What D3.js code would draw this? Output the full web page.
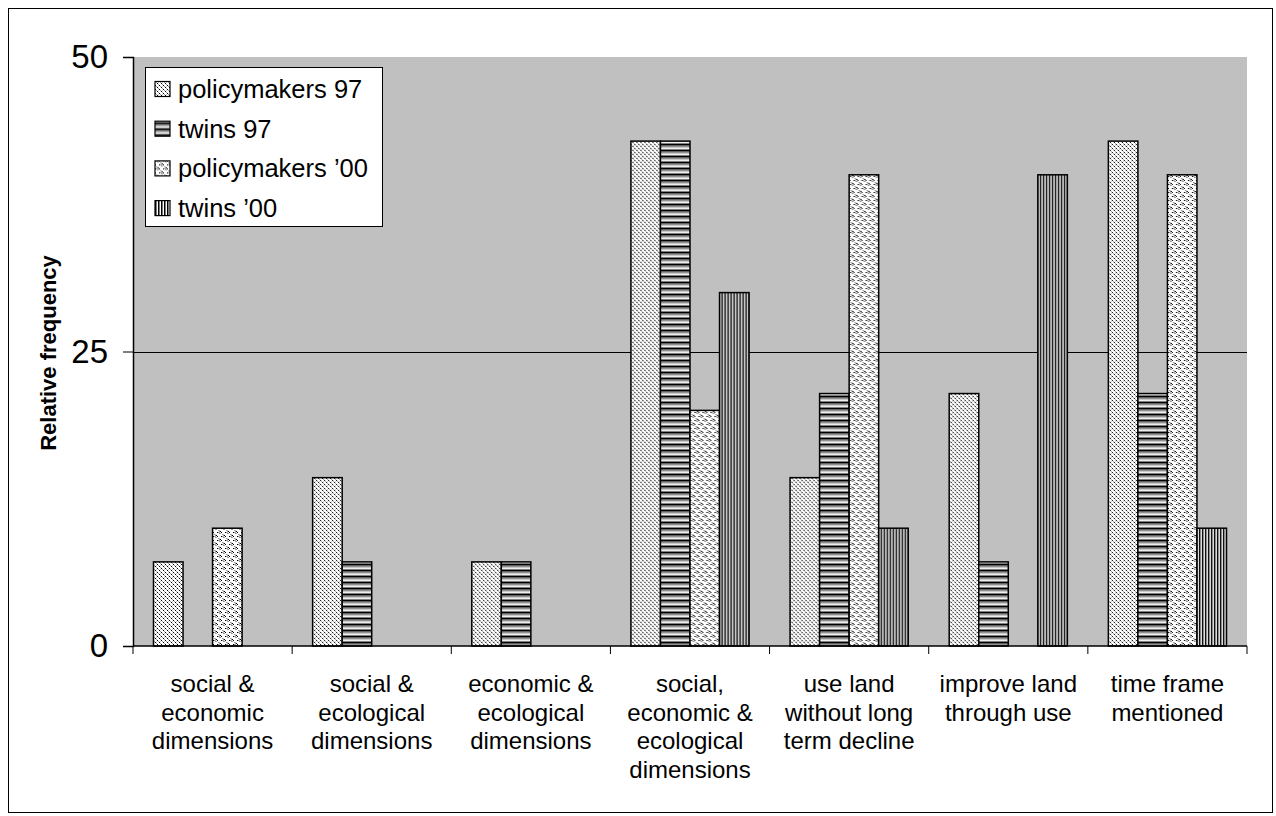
<!DOCTYPE html>
<html>
<head>
<meta charset="utf-8">
<script src="https://cdn.jsdelivr.net/npm/d3@7"></script>
<style>
  body { margin: 0; background: #fff; }
  svg { display: block; font-family: "Liberation Sans", Arial, sans-serif; }
</style>
</head>
<body>
<svg id="chart" width="1276" height="816"></svg>
<script>
// Categories (multi-line labels) and the four series, in percent
const categories = [
  ["social &", "economic", "dimensions"],
  ["social &", "ecological", "dimensions"],
  ["economic &", "ecological", "dimensions"],
  ["social,", "economic &", "ecological", "dimensions"],
  ["use land", "without long", "term decline"],
  ["improve land", "through use"],
  ["time frame", "mentioned"]
];
const seriesNames = ["policymakers 97", "twins 97", "policymakers \u201900", "twins \u201900"];
const policymakers97 = [7.14, 14.29, 7.14, 42.86, 14.29, 21.43, 42.86];
const twins97        = [0,    7.14,  7.14, 42.86, 21.43, 7.14,  21.43];
const policymakers00 = [10,   0,     0,    20,    40,    0,     40];
const twins00        = [0,    0,     0,    30,    10,    40,    10];
const yTicks = [0, 25, 50];

const series = [policymakers97, twins97, policymakers00, twins00];
const patternIds = ["pat-pm97", "pat-tw97", "pat-pm00", "pat-tw00"];

const svg = d3.select("#chart");
const defs = svg.append("defs");

// Fill patterns built from single pixels
function pixelPattern(id, w, h, bg, pixels) {
  const p = defs.append("pattern").attr("id", id)
    .attr("patternUnits", "userSpaceOnUse").attr("width", w).attr("height", h);
  p.append("rect").attr("width", w).attr("height", h).attr("fill", bg);
  pixels.forEach(([x, y, c, pw, ph]) => {
    p.append("rect").attr("x", x).attr("y", y)
      .attr("width", pw || 1).attr("height", ph || 1)
      .attr("fill", c).attr("shape-rendering", "crispEdges");
  });
}
// policymakers 97: fine diagonal dots
pixelPattern("pat-pm97", 4, 4, "#ffffff", [
  [0, 0, "#000"], [1, 1, "#a0a0a0"], [2, 2, "#000"], [3, 3, "#a0a0a0"],
  [3, 1, "#c8c8c8"]
]);
// twins 97: horizontal stripes
pixelPattern("pat-tw97", 6, 6, "#909090", [
  [0, 0, "#000", 6, 1], [0, 1, "#606060", 6, 1], [0, 3, "#c8c8c8", 6, 1],
  [0, 4, "#eeeeee", 6, 1], [0, 5, "#808080", 6, 1]
]);
// policymakers '00: wavy grey bands with dots
pixelPattern("pat-pm00", 8, 8, "#ffffff", [
  [0, 0, "#000"], [1, 0, "#999"], [2, 1, "#999"], [3, 1, "#999"], [4, 0, "#000"],
  [5, 2, "#999"], [6, 3, "#999"], [7, 3, "#000"], [2, 0, "#bbb"], [6, 2, "#bbb"],
  [4, 4, "#000"], [5, 4, "#999"], [6, 5, "#999"], [7, 5, "#999"], [0, 4, "#000"],
  [1, 6, "#999"], [2, 7, "#999"], [3, 7, "#000"], [6, 4, "#bbb"], [2, 6, "#bbb"]
]);
// twins '00: vertical black stripes
pixelPattern("pat-tw00", 3, 3, "#ffffff", [[0, 0, "#000", 1, 3], [1, 0, "#7a7a7a", 1, 3]]);

// Outer frame
svg.append("rect").attr("x", 8.5).attr("y", 8.5).attr("width", 1264).attr("height", 804)
  .attr("fill", "none").attr("stroke", "#000").attr("stroke-width", 1);

const plot = { left: 133, top: 57, right: 1247, bottom: 646 };

const x = d3.scaleBand().domain(d3.range(categories.length))
  .range([plot.left, plot.right]).padding(0);
// four adjacent bars centred within each category
const inner = d3.scaleBand().domain(d3.range(series.length))
  .range([20.5, x.bandwidth() - 20.5]).padding(0);
const y = d3.scaleLinear().domain([0, 50]).range([plot.bottom, plot.top]);

// Plot background
svg.append("rect").attr("x", plot.left).attr("y", plot.top)
  .attr("width", plot.right - plot.left).attr("height", plot.bottom - plot.top)
  .attr("fill", "#c0c0c0");

// Gridline at 25
svg.append("g").selectAll("line").data(yTicks.filter(t => t > 0 && t < 50)).join("line")
  .attr("x1", plot.left).attr("x2", plot.right)
  .attr("y1", d => Math.round(y(d)) + 0.5).attr("y2", d => Math.round(y(d)) + 0.5)
  .attr("stroke", "#000").attr("stroke-width", 1);

// Bars
const groups = svg.append("g").selectAll("g").data(categories).join("g")
  .attr("transform", (d, i) => `translate(${x(i)},0)`);
groups.each(function (d, ci) {
  const g = d3.select(this);
  series.forEach((s, si) => {
    const v = s[ci];
    if (v <= 0) return;
    g.append("rect")
      .attr("x", inner(si)).attr("y", y(v))
      .attr("width", inner.bandwidth()).attr("height", y(0) - y(v))
      .attr("fill", `url(#${patternIds[si]})`)
      .attr("stroke", "#000").attr("stroke-width", 1.5);
  });
});

// Y axis
const yAxis = d3.axisLeft(y).tickValues(yTicks).tickSize(10).tickPadding(15);
const gy = svg.append("g").attr("transform", `translate(${plot.left},0)`).call(yAxis);
gy.attr("font-size", 33).attr("font-family", "Liberation Sans, Arial, sans-serif");
gy.select(".domain").attr("stroke", "#000").attr("stroke-width", 1.5);
gy.selectAll(".tick line").attr("stroke", "#000").attr("stroke-width", 1);
gy.selectAll(".tick text").attr("fill", "#000");

// X axis: baseline with ticks at category boundaries
const gx = svg.append("g");
gx.append("line").attr("x1", plot.left).attr("x2", plot.right)
  .attr("y1", plot.bottom).attr("y2", plot.bottom)
  .attr("stroke", "#000").attr("stroke-width", 1.5);
const boundaries = d3.range(categories.length + 1).map(i => i < categories.length ? x(i) : plot.right);
gx.selectAll("line.tk").data(boundaries).join("line").attr("class", "tk")
  .attr("x1", d => d).attr("x2", d => d)
  .attr("y1", plot.bottom).attr("y2", plot.bottom + 8)
  .attr("stroke", "#000").attr("stroke-width", 1);

// Category labels
const labels = svg.append("g").selectAll("text").data(categories).join("text")
  .attr("x", (d, i) => x(i) + x.bandwidth() / 2)
  .attr("y", 692)
  .attr("text-anchor", "middle").attr("font-size", 24).attr("fill", "#000");
labels.selectAll("tspan").data(d => d).join("tspan")
  .attr("x", function () { return d3.select(this.parentNode).attr("x"); })
  .attr("dy", (d, i) => i === 0 ? 0 : 28.5)
  .text(d => d);

// Y axis title
svg.append("text")
  .attr("transform", `translate(56,353) rotate(-90)`)
  .attr("text-anchor", "middle").attr("font-size", 22).attr("font-weight", "bold")
  .attr("fill", "#000").text("Relative frequency");

// Legend
const legend = svg.append("g");
legend.append("rect").attr("x", 145.5).attr("y", 67.5).attr("width", 237).attr("height", 159)
  .attr("fill", "#fff").attr("stroke", "#000").attr("stroke-width", 1);
const items = legend.selectAll("g").data(seriesNames).join("g")
  .attr("transform", (d, i) => `translate(155,${89 + i * 39.7})`);
items.append("rect").attr("x", 0).attr("y", -7.5).attr("width", 15).attr("height", 15)
  .attr("fill", (d, i) => `url(#${patternIds[i]})`)
  .attr("stroke", "#000").attr("stroke-width", 1.2);
items.append("text").attr("x", 23).attr("y", 9)
  .attr("font-size", 25.5).attr("fill", "#000").text(d => d);
</script>
</body>
</html>
